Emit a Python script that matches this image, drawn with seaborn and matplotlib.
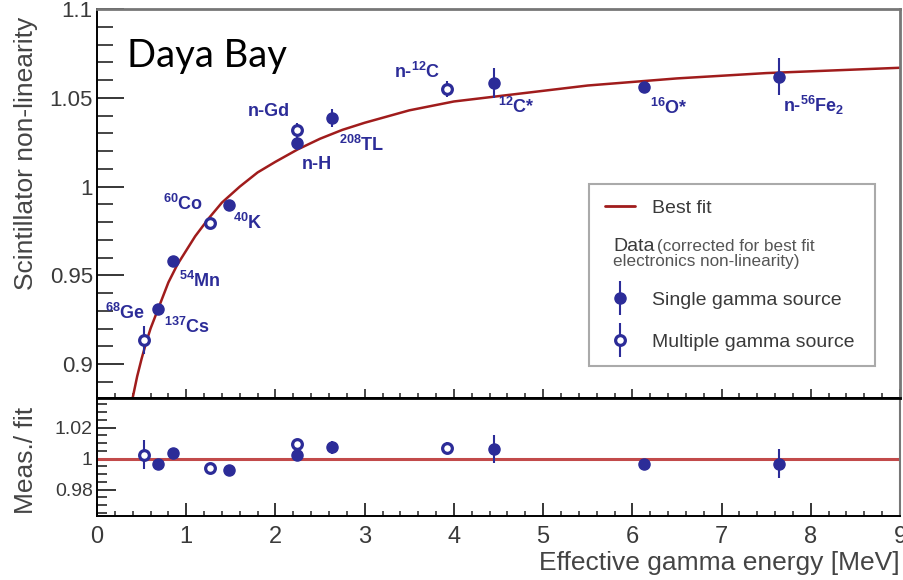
import matplotlib
matplotlib.use('Agg')
import matplotlib.pyplot as plt
import seaborn as sns
from matplotlib.lines import Line2D
from matplotlib.legend_handler import HandlerErrorbar
from matplotlib.ticker import MultipleLocator, FixedLocator, FixedFormatter

# ---------------- data ----------------
fit_energy = [0.40, 0.45, 0.50, 0.55, 0.60, 0.70, 0.80, 0.90, 1.00, 1.10, 1.25,
              1.40, 1.60, 1.80, 2.00, 2.25, 2.50, 2.75, 3.00, 3.50, 4.00, 4.50,
              5.00, 5.50, 6.00, 6.50, 7.00, 7.50, 8.00, 8.50, 9.00]
fit_nl = [0.881, 0.893, 0.903, 0.912, 0.920, 0.933, 0.946, 0.956, 0.964, 0.972, 0.982,
          0.991, 1.000, 1.008, 1.014, 1.021, 1.027, 1.032, 1.036, 1.043, 1.048, 1.051,
          1.054, 1.057, 1.059, 1.061, 1.0625, 1.064, 1.065, 1.066, 1.067]

energy_single = [0.687, 0.855, 1.483, 2.24, 2.63, 4.45, 6.13, 7.64]
nl_single = [0.9308, 0.9581, 0.9897, 1.0244, 1.0385, 1.0582, 1.0563, 1.0620]
err_single = [0.003, 0.002, 0.003, 0.004, 0.005, 0.0085, 0.002, 0.0105]
ratio_single = [0.9966, 1.0037, 0.9927, 1.0021, 1.0073, 1.0065, 0.9968, 0.9968]
ratio_err_single = [0.003, 0.002, 0.003, 0.003, 0.004, 0.009, 0.002, 0.0095]

energy_multi = [0.53, 1.267, 2.24, 3.92]
nl_multi = [0.9135, 0.9797, 1.0319, 1.0548]
err_multi = [0.008, 0.002, 0.004, 0.0045]
ratio_multi = [1.0026, 0.9940, 1.0095, 1.0069]
ratio_err_multi = [0.0095, 0.002, 0.003, 0.004]

ratio_ref = 1.0

source_labels = [r'$^{68}$Ge', r'$^{137}$Cs', r'$^{54}$Mn', r'$^{60}$Co', r'$^{40}$K',
                 'n-Gd', 'n-H', r'$^{208}$TL', r'n-$^{12}$C', r'$^{12}$C*',
                 r'$^{16}$O*', r'n-$^{56}$Fe$_{2}$']
label_x = [0.314, 1.009, 1.155, 0.964, 1.692, 1.928, 2.466, 2.970, 3.587, 4.696, 6.411, 8.036]
label_y = [0.9290, 0.9208, 0.9468, 0.9902, 0.9795, 1.0426, 1.0122, 1.0235, 1.0646,
           1.0449, 1.0443, 1.0455]

top_yticks = [0.9, 0.95, 1.0, 1.05, 1.1]
top_yticklabels = ['0.9', '0.95', '1', '1.05', '1.1']
bot_yticks = [0.98, 1.0, 1.02]
bot_yticklabels = ['0.98', '1', '1.02']
xticks = [0, 1, 2, 3, 4, 5, 6, 7, 8, 9]
xticklabels = ['0', '1', '2', '3', '4', '5', '6', '7', '8', '9']

# ---------------- style ----------------
sns.set_style('white')
plt.rcParams['font.family'] = ['Liberation Sans', 'DejaVu Sans']
plt.rcParams['mathtext.fontset'] = 'custom'
plt.rcParams['mathtext.rm'] = 'Liberation Sans:bold'
plt.rcParams['mathtext.it'] = 'Liberation Sans:bold'
plt.rcParams['mathtext.bf'] = 'Liberation Sans:bold'
plt.rcParams['mathtext.default'] = 'rm'

BLUE = '#2c2c98'
RED = '#a01c1c'
RATIO_RED = '#c24a4a'
GREY_TXT = '#3a3a3a'
LIGHT_TXT = '#555555'

fig = plt.figure(figsize=(9.04, 5.8), dpi=100)
ax1 = fig.add_axes([0.1073, 0.3133, 0.8883, 0.6708])
ax2 = fig.add_axes([0.1073, 0.1103, 0.8883, 0.2030])

# ---------------- upper panel ----------------
sns.lineplot(x=fit_energy, y=fit_nl, ax=ax1, color=RED, lw=1.8, legend=False, zorder=2)

e_single = ax1.errorbar(energy_single, nl_single, yerr=err_single, fmt='o', ms=8,
                        color=BLUE, mec=BLUE, ecolor=BLUE, elinewidth=1.5, capsize=0, zorder=4)
e_multi = ax1.errorbar(energy_multi, nl_multi, yerr=err_multi, fmt='o', ms=7,
                       mfc='white', mec=BLUE, mew=2.3, ecolor=BLUE, elinewidth=1.5,
                       capsize=0, zorder=4)

for txt, lx, ly in zip(source_labels, label_x, label_y):
    ax1.text(lx, ly, txt, ha='center', va='center', fontsize=13, fontweight='bold',
             color=BLUE, zorder=5)

ax1.text(0.0374, 0.8525, 'Daya Bay', transform=ax1.transAxes, fontsize=27.5,
         family=['Lato', 'DejaVu Sans'], va='baseline', ha='left', color='black')

ax1.set_xlim(0, 9)
ax1.set_ylim(0.8807, 1.1)
ax1.yaxis.set_major_locator(FixedLocator(top_yticks))
ax1.yaxis.set_major_formatter(FixedFormatter(top_yticklabels))
ax1.yaxis.set_minor_locator(MultipleLocator(0.01))
ax1.xaxis.set_major_locator(MultipleLocator(1))
ax1.xaxis.set_minor_locator(MultipleLocator(0.2))
ax1.tick_params(axis='y', which='major', direction='in', length=19.5, width=1.3,
                labelsize=16, labelcolor=GREY_TXT, pad=3, left=True, right=False)
ax1.tick_params(axis='y', which='minor', direction='in', length=11.5, width=1.2,
                left=True, right=False)
ax1.tick_params(axis='x', which='major', direction='in', length=6.5, width=1.2,
                labelbottom=False, bottom=True, top=False)
ax1.tick_params(axis='x', which='minor', direction='in', length=3.6, width=1.1,
                bottom=True, top=False)
ax1.set_xlabel('')
ax1.set_ylabel('Scintillator non-linearity', fontsize=19, color='#444444')
ax1.yaxis.set_label_coords(-0.089, 0.629)
ax1.yaxis.label.set_va('center')

for side in ['left', 'bottom']:
    ax1.spines[side].set_color('black')
    ax1.spines[side].set_linewidth(1.4)
for side in ['top', 'right']:
    ax1.spines[side].set_color('#777777')
    ax1.spines[side].set_linewidth(2.0)

# legend
handles = [Line2D([], [], color=RED, lw=2), Line2D([], [], alpha=0), e_single, e_multi]
labels = ['Best fit', ' ', 'Single gamma source', 'Multiple gamma source']
leg = ax1.legend(handles, labels, loc='upper left', bbox_to_anchor=(0.613, 0.077, 0.356, 0.474),
                 mode='expand', borderaxespad=0, fontsize=14, handlelength=1.55,
                 handletextpad=0.9, borderpad=0.8, labelspacing=1.245, frameon=True,
                 fancybox=False, edgecolor='#aaaaaa', framealpha=1,
                 handler_map={type(e_single): HandlerErrorbar(xerr_size=0.5, yerr_size=0.87)})
leg.get_frame().set_linewidth(1.5)
for t in leg.get_texts():
    t.set_color(GREY_TXT)
leg.get_texts()[1].set_fontsize(20)
leg.set_zorder(6)

ax1.text(0.6426, 0.3793, 'Data', transform=ax1.transAxes, fontsize=14, va='baseline',
         color=GREY_TXT, zorder=7)
ax1.text(0.697, 0.3793, '(corrected for best fit', transform=ax1.transAxes, fontsize=12.3,
         va='baseline', color=LIGHT_TXT, zorder=7)
ax1.text(0.6426, 0.340, 'electronics non-linearity)', transform=ax1.transAxes, fontsize=12.3,
         va='baseline', color=LIGHT_TXT, zorder=7)

# ---------------- lower panel ----------------
ax2.axhline(ratio_ref, color=RATIO_RED, lw=2.2, zorder=2)
ax2.errorbar(energy_single, ratio_single, yerr=ratio_err_single, fmt='o', ms=8,
             color=BLUE, mec=BLUE, ecolor=BLUE, elinewidth=1.5, capsize=0, zorder=4)
ax2.errorbar(energy_multi, ratio_multi, yerr=ratio_err_multi, fmt='o', ms=7,
             mfc='white', mec=BLUE, mew=2.3, ecolor=BLUE, elinewidth=1.5, capsize=0, zorder=4)

ax2.set_xlim(0, 9)
ax2.set_ylim(0.963, 1.039)
ax2.yaxis.set_major_locator(FixedLocator(bot_yticks))
ax2.yaxis.set_major_formatter(FixedFormatter(bot_yticklabels))
ax2.yaxis.set_minor_locator(MultipleLocator(0.005))
ax2.xaxis.set_major_locator(FixedLocator(xticks))
ax2.xaxis.set_major_formatter(FixedFormatter(xticklabels))
ax2.xaxis.set_minor_locator(MultipleLocator(0.2))
ax2.tick_params(axis='y', which='major', direction='in', length=13.7, width=1.3,
                labelsize=14, labelcolor=GREY_TXT, pad=3, left=True, right=False)
ax2.tick_params(axis='y', which='minor', direction='in', length=7.2, width=1.2,
                left=True, right=False)
ax2.tick_params(axis='x', which='major', direction='in', length=9.4, width=1.3,
                labelsize=17, labelcolor=GREY_TXT, pad=7, bottom=True, top=False)
ax2.tick_params(axis='x', which='minor', direction='in', length=3.6, width=1.1,
                bottom=True, top=False)

ax2.set_ylabel('Meas./ fit', fontsize=19, color='#444444')
ax2.yaxis.set_label_coords(-0.089, 0.47)
ax2.yaxis.label.set_va('center')
ax2.set_xlabel('Effective gamma energy [MeV]', fontsize=19, color='#444444')
ax2.xaxis.set_label_coords(1.0, -0.40)
ax2.xaxis.label.set_ha('right')
ax2.xaxis.label.set_va('center')

for side in ['left', 'bottom', 'top']:
    ax2.spines[side].set_color('black')
    ax2.spines[side].set_linewidth(1.4)
ax2.spines['top'].set_linewidth(2.0)
ax2.spines['right'].set_color('#777777')
ax2.spines['right'].set_linewidth(1.5)

fig.savefig('out.png', dpi=100)
